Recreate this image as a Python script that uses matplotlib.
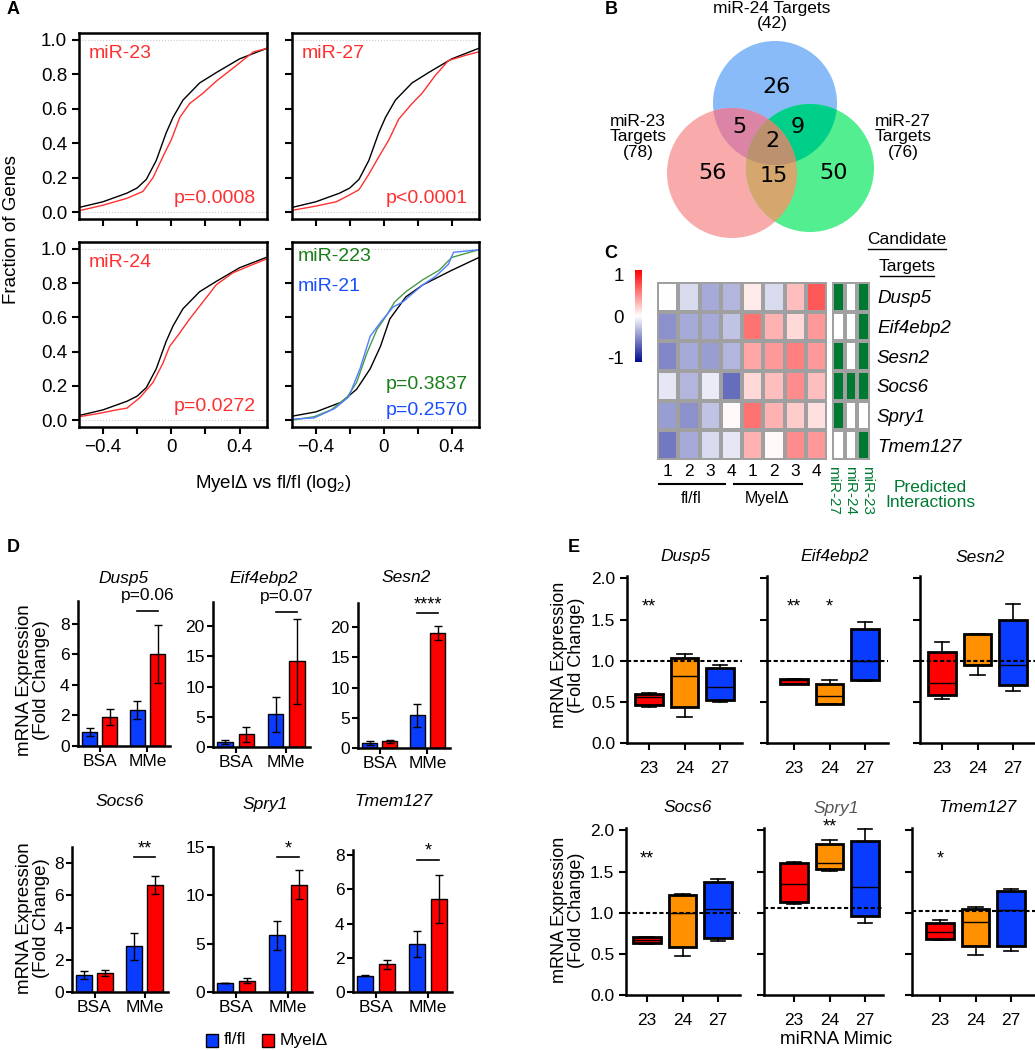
import numpy as np
import matplotlib
matplotlib.use("Agg")
import matplotlib.pyplot as plt
from matplotlib.colors import LinearSegmentedColormap, ListedColormap
from matplotlib.patches import Circle, Rectangle, Polygon
from matplotlib.lines import Line2D
import matplotlib.cm as cm
import matplotlib.colors as mcolors

plt.rcParams['font.family'] = ['Liberation Sans', 'DejaVu Sans']
plt.rcParams['mathtext.fontset'] = 'custom'
plt.rcParams['mathtext.rm'] = 'Liberation Sans'
plt.rcParams['mathtext.it'] = 'Liberation Sans:italic'

W, H = 1035, 1050

# ---------------- data ----------------
# A: cumulative fraction curves (log2 FC, fraction of genes)
bg_x = [-0.54, -0.4, -0.26, -0.2, -0.146, -0.088, -0.03, 0.01, 0.068, 0.166, 0.263, 0.4, 0.556]
bg_y = [0.027, 0.06, 0.11, 0.14, 0.19, 0.30, 0.46, 0.55, 0.65, 0.75, 0.81, 0.89, 0.95]
mir23_x = [-0.54, -0.4, -0.26, -0.166, -0.107, -0.05, 0.0, 0.05, 0.107, 0.185, 0.263, 0.36, 0.48, 0.556]
mir23_y = [0.008, 0.04, 0.08, 0.12, 0.2, 0.32, 0.42, 0.55, 0.63, 0.69, 0.76, 0.835, 0.93, 0.95]
mir27_x = [-0.54, -0.4, -0.28, -0.22, -0.146, -0.088, -0.03, 0.03, 0.088, 0.166, 0.225, 0.3, 0.38, 0.48, 0.556]
mir27_y = [0.01, 0.035, 0.06, 0.09, 0.13, 0.22, 0.32, 0.42, 0.54, 0.63, 0.69, 0.79, 0.88, 0.91, 0.93]
mir24_x = [-0.54, -0.42, -0.32, -0.26, -0.185, -0.107, -0.05, -0.01, 0.05, 0.107, 0.185, 0.263, 0.36, 0.48, 0.556]
mir24_y = [0.02, 0.04, 0.06, 0.07, 0.13, 0.22, 0.33, 0.43, 0.51, 0.59, 0.69, 0.79, 0.86, 0.91, 0.94]
bg2_x = [-0.54, -0.4, -0.25, -0.16, -0.08, -0.02, 0.035, 0.13, 0.23, 0.4, 0.556]
bg2_y = [0.023, 0.048, 0.105, 0.18, 0.30, 0.43, 0.59, 0.72, 0.79, 0.875, 0.948]
mir223_x = [-0.54, -0.41, -0.31, -0.215, -0.16, -0.1, -0.04, 0.015, 0.064, 0.13, 0.23, 0.325, 0.4, 0.556]
mir223_y = [0.0, 0.02, 0.06, 0.135, 0.22, 0.39, 0.53, 0.61, 0.69, 0.75, 0.82, 0.875, 0.95, 0.994]
mir21_x = [-0.54, -0.41, -0.29, -0.207, -0.14, -0.08, -0.02, 0.054, 0.112, 0.17, 0.23, 0.305, 0.38, 0.41, 0.556]
mir21_y = [0.006, 0.013, 0.067, 0.135, 0.3, 0.49, 0.57, 0.66, 0.69, 0.74, 0.79, 0.84, 0.91, 0.98, 0.994]

# B: venn counts
venn_only = {'miR-24': 26, 'miR-23': 56, 'miR-27': 50}
venn_pairs = {'23&24': 5, '24&27': 9, '23&27': 15}
venn_all = 2
venn_totals = {'miR-24': 42, 'miR-23': 78, 'miR-27': 76}

# C: heatmap (z-scores) and predicted interactions
genes = ['Dusp5', 'Eif4ebp2', 'Sesn2', 'Socs6', 'Spry1', 'Tmem127']
heat = [
    [0.0, -0.15, -0.35, -0.3, 0.08, -0.15, 0.25, 0.65],
    [-0.45, -0.35, -0.35, -0.25, 0.55, 0.3, 0.15, 0.4],
    [-0.5, -0.35, -0.4, -0.3, 0.35, 0.4, 0.5, 0.4],
    [-0.1, -0.3, -0.08, -0.6, 0.15, 0.25, 0.45, 0.25],
    [-0.4, -0.45, -0.25, 0.03, 0.55, 0.3, 0.2, 0.12],
    [-0.55, -0.35, -0.15, -0.1, 0.3, 0.03, 0.45, 0.4],
]
heat_cols = ['1', '2', '3', '4', '1', '2', '3', '4']
pred_cols = ['miR-27', 'miR-24', 'miR-23']
pred = [
    [1, 0, 1],
    [0, 0, 1],
    [1, 0, 1],
    [1, 1, 1],
    [1, 0, 0],
    [0, 0, 1],
]

# D: bar means / SEM  [BSA, MMe]
d_groups = ['BSA', 'MMe']
d_flfl = [[0.93, 2.38], [0.83, 5.4], [0.83, 5.4], [1.03, 2.83], [0.93, 5.87], [0.96, 2.79]]
d_flfl_err = [[0.26, 0.6], [0.3, 2.9], [0.3, 1.9], [0.25, 0.85], [0.0, 1.5], [0.05, 0.77]]
d_myel = [[1.9, 6.0], [2.1, 14.2], [1.1, 19.0], [1.18, 6.65], [1.17, 11.07], [1.63, 5.44]]
d_myel_err = [[0.5, 1.9], [1.2, 7.0], [0.2, 1.2], [0.16, 0.55], [0.27, 1.5], [0.26, 1.38]]
d_sig = ['p=0.06', 'p=0.07', '****', '**', '*', '*']
d_ymax = [9.5, 24, 24, 9, 15, 8.3]
d_ystep = [2, 5, 5, 2, 5, 2]

# E: box stats per gene, per mimic (whislo, q1, med, q3, whishi)
mimics = ['23', '24', '27']
e_boxes = [
    [[0.44, 0.46, 0.56, 0.60, 0.61], [0.32, 0.44, 0.82, 1.03, 1.08], [0.50, 0.52, 0.68, 0.91, 0.95]],
    [[0.72, 0.72, 0.76, 0.78, 0.78], [0.47, 0.48, 0.57, 0.72, 0.76], [0.75, 0.76, 1.0, 1.39, 1.47]],
    [[0.54, 0.58, 0.73, 1.11, 1.23], [0.83, 0.95, 0.95, 1.32, 1.32], [0.63, 0.70, 0.95, 1.50, 1.69]],
    [[0.62, 0.63, 0.67, 0.70, 0.71], [0.48, 0.58, 1.0, 1.21, 1.23], [0.66, 0.69, 1.04, 1.37, 1.41]],
    [[1.11, 1.13, 1.35, 1.60, 1.62], [1.51, 1.53, 1.61, 1.83, 1.89], [0.88, 0.96, 1.31, 1.87, 2.02]],
    [[0.67, 0.68, 0.76, 0.88, 0.91], [0.49, 0.59, 0.89, 1.04, 1.07], [0.53, 0.60, 1.03, 1.27, 1.29]],
]
e_ref = [1.0, 1.0, 1.0, 1.0, 1.06, 1.02]
e_sig = [[('**', 1)], [('**', 1), ('*', 2)], [], [('**', 1)], [('**', 2)], [('*', 1)]]
e_sig_y = [1.65, 1.65, 1.65, 1.65, 2.04, 1.65]

# colours
RED = '#ff0000'
BLUE = '#0a3cff'
ORANGE = '#ff9000'
GREEN_T = '#1a7f1a'
PRED_GREEN = '#007a33'


def rect(l, t, r, b):
    return [l / W, 1 - b / H, (r - l) / W, (b - t) / H]


def fx(x):
    return x / W


def fy(y):
    return 1 - y / H


fig = plt.figure(figsize=(W / 100, H / 100), dpi=100)

# ---------------- A ----------------
a_rects = [(79, 33, 267, 219), (292, 33, 479, 219), (79, 242, 267, 427), (292, 242, 479, 427)]
a_curves = [
    [(bg_x, bg_y, 'black'), (mir23_x, mir23_y, '#ff3030')],
    [(bg_x, bg_y, 'black'), (mir27_x, mir27_y, '#ff3030')],
    [(bg_x, bg_y, 'black'), (mir24_x, mir24_y, '#ff3030')],
    [(bg2_x, bg2_y, 'black'), (mir223_x, mir223_y, '#4a9a4a'), (mir21_x, mir21_y, '#4f7fff')],
]
a_labels = [
    [('miR-23', '#ff3030', 0.05, 0.89, 'left'), ('p=0.0008', '#ff3030', 0.94, 0.11, 'right')],
    [('miR-27', '#ff3030', 0.05, 0.89, 'left'), ('p<0.0001', '#ff3030', 0.94, 0.11, 'right')],
    [('miR-24', '#ff3030', 0.05, 0.89, 'left'), ('p=0.0272', '#ff3030', 0.94, 0.11, 'right')],
    [('miR-223', GREEN_T, 0.03, 0.92, 'left'), ('miR-21', '#1a4fff', 0.03, 0.76, 'left'),
     ('p=0.3837', GREEN_T, 0.94, 0.23, 'right'), ('p=0.2570', '#1a4fff', 0.94, 0.09, 'right')],
]
for i, r in enumerate(a_rects):
    ax = fig.add_axes(rect(*r))
    ax.axhline(0, color='#cccccc', ls=':', lw=0.8)
    ax.axhline(1, color='#cccccc', ls=':', lw=0.8)
    for xs, ys, c in a_curves[i]:
        ax.plot(xs, ys, color=c, lw=1.0)
    ax.set_xlim(-0.54, 0.56)
    ax.set_ylim(-0.04, 1.04)
    ax.set_xticks([-0.4, -0.2, 0, 0.2, 0.4])
    ax.set_xticklabels(['\u22120.4', '', '0', '', '0.4'])
    ax.set_yticks([0, 0.2, 0.4, 0.6, 0.8, 1.0])
    ax.set_yticklabels(['0.0', '0.2', '0.4', '0.6', '0.8', '1.0'])
    ax.tick_params(labelsize=13.5, width=1.5, length=5)
    if i < 2:
        ax.tick_params(labelbottom=False)
    if i % 2 == 1:
        ax.tick_params(labelleft=False)
    for s in ax.spines.values():
        s.set_linewidth(1.8)
    for txt, c, x, y, ha in a_labels[i]:
        ax.text(x, y, txt, color=c, fontsize=14, ha=ha, va='center', transform=ax.transAxes)

fig.text(fx(12), fy(230), 'Fraction of Genes', rotation=90, fontsize=13.5, ha='center', va='center')
fig.text(fx(273), fy(483), 'Myel\u0394 vs fl/fl (log$_2$)', fontsize=13.5, ha='center', va='center')

# ---------------- B ----------------
axv = fig.add_axes(rect(580, 0, 1035, 250))
axv.set_xlim(580, 1035)
axv.set_ylim(250, 0)
axv.axis('off')
c24, r24 = (775, 103), 62
c23, r23 = (732, 173), 65
c27, r27 = (810, 168), 64
axv.add_patch(Circle(c24, r24, facecolor='#88bbf8', lw=0))
axv.add_patch(Circle(c23, r23, facecolor='#f9abab', lw=0))
axv.add_patch(Circle(c27, r27, facecolor='#52ee90', lw=0))
# pairwise overlaps: one circle clipped by another
for (ca, ra), (cb_, rb), col in [((c24, r24), (c23, r23), '#dc84a6'),
                                 ((c24, r24), (c27, r27), '#00cf8a'),
                                 ((c23, r23), (c27, r27), '#d6a66f')]:
    p = Circle(ca, ra, facecolor=col, lw=0)
    axv.add_patch(p)
    p.set_clip_path(Circle(cb_, rb, transform=axv.transData))
# triple overlap
circs = [(c24, r24), (c23, r23), (c27, r27)]
pts = []
th = np.linspace(0, 2 * np.pi, 1440)
for k, (c, rr) in enumerate(circs):
    px_ = c[0] + rr * np.cos(th)
    py_ = c[1] + rr * np.sin(th)
    keep = np.ones_like(th, dtype=bool)
    for j, (c2, r2) in enumerate(circs):
        if j != k:
            keep &= (px_ - c2[0]) ** 2 + (py_ - c2[1]) ** 2 <= r2 ** 2 + 1e-6
    pts.append(np.column_stack([px_[keep], py_[keep]]))
pts = np.vstack(pts)
cen = pts.mean(axis=0)
order = np.argsort(np.arctan2(pts[:, 1] - cen[1], pts[:, 0] - cen[0]))
axv.add_patch(Polygon(pts[order], closed=True, facecolor='#bb916f', lw=0))

vfont = dict(fontsize=16, ha='center', va='center', family='DejaVu Sans')
axv.text(776, 87, str(venn_only['miR-24']), **vfont)
axv.text(712, 173, str(venn_only['miR-23']), **vfont)
axv.text(834, 173, str(venn_only['miR-27']), **vfont)
axv.text(739, 127, str(venn_pairs['23&24']), **vfont)
axv.text(798, 127, str(venn_pairs['24&27']), **vfont)
axv.text(774, 176, str(venn_pairs['23&27']), **vfont)
axv.text(772, 141, str(venn_all), **vfont)
axv.text(772, 16, 'miR-24 Targets\n(%d)' % venn_totals['miR-24'], fontsize=12.5, ha='center',
         va='center', linespacing=1.0)
axv.text(638, 137, 'miR-23\nTargets\n(%d)' % venn_totals['miR-23'], fontsize=12.5, ha='center',
         va='center', linespacing=1.0)
axv.text(903, 137, 'miR-27\nTargets\n(%d)' % venn_totals['miR-27'], fontsize=12.5, ha='center',
         va='center', linespacing=1.0)

# ---------------- C ----------------
hm_cmap = LinearSegmentedColormap.from_list('bwr2', ['#000c8f', '#ffffff', '#ff0000'])
axh = fig.add_axes(rect(657, 282, 827, 460))
axh.pcolormesh(heat, cmap=hm_cmap, vmin=-1, vmax=1, edgecolors='#a0a0a0', linewidth=1.5)
axh.set_xlim(0, 8)
axh.set_ylim(6, 0)
axh.set_xticks([i + 0.5 for i in range(8)])
axh.set_xticklabels(heat_cols, fontsize=12.5)
axh.set_yticks([])
axh.tick_params(length=0, pad=3)
for s in axh.spines.values():
    s.set_visible(False)
axh.plot([0.1, 3.2], [6.8, 6.8], color='black', lw=1.5, clip_on=False)
axh.plot([3.6, 6.8], [6.8, 6.8], color='black', lw=1.5, clip_on=False)
axh.text(1.6, 7.3, 'fl/fl', fontsize=11.5, ha='center', va='center')
axh.text(5.2, 7.3, 'Myel\u0394', fontsize=11.5, ha='center', va='center')

axp = fig.add_axes(rect(832, 282, 870, 460))
axp.pcolormesh(pred, cmap=ListedColormap(['white', PRED_GREEN]), vmin=0, vmax=1,
               edgecolors='#a0a0a0', linewidth=1.5)
axp.set_xlim(0, 3)
axp.set_ylim(6, 0)
axp.set_xticks([])
axp.set_yticks([i + 0.5 for i in range(6)])
axp.set_yticklabels(genes, fontsize=13.5, style='italic')
axp.yaxis.tick_right()
axp.tick_params(length=0, pad=5)
for s in axp.spines.values():
    s.set_visible(False)
# rotated interaction labels, slightly spread like the original
for lab, xpix in zip(pred_cols, [833, 850, 867]):
    fig.text(fx(xpix), fy(466), lab, rotation=-90, color=PRED_GREEN, fontsize=11,
             ha='center', va='top')

fig.text(fx(930), fy(495), 'Predicted\nInteractions', color=PRED_GREEN, fontsize=12.5,
         ha='center', va='center', linespacing=1.05)
fig.text(fx(907), fy(240), 'Candidate', fontsize=12.5, ha='center', va='center')
fig.text(fx(907), fy(267), 'Targets', fontsize=12.5, ha='center', va='center')
fig.add_artist(Line2D([fx(868), fx(946)], [fy(249), fy(249)], color='black', lw=1))
fig.add_artist(Line2D([fx(880), fx(934)], [fy(276), fy(276)], color='black', lw=1))

cax = fig.add_axes(rect(635, 270, 642, 362))
cb = fig.colorbar(cm.ScalarMappable(norm=mcolors.Normalize(-1, 1), cmap=hm_cmap), cax=cax)
cb.outline.set_visible(False)
cb.set_ticks([-0.9, 0, 0.9])
cb.set_ticklabels(['-1', '0', '1'])
cax.yaxis.set_ticks_position('left')
cax.tick_params(length=0, labelsize=13.5, pad=8)

# ---------------- D ----------------
d_rects = [(78, 601, 170, 746), (213, 602, 310, 747), (358, 603, 450, 748),
           (72, 847, 168, 992), (213, 847, 312, 992), (353, 850, 452, 992)]
d_title_pos = [(124, 578), (264, 578), (406, 578), (120, 802), (265, 805), (393, 802)]
off, bw = 0.21, 0.31
for i, r in enumerate(d_rects):
    ax = fig.add_axes(rect(*r))
    xs = [0, 1]
    ax.bar([x - off for x in xs], d_flfl[i], bw, yerr=d_flfl_err[i], color=BLUE,
           edgecolor='black', lw=1, capsize=3, error_kw=dict(lw=1, capthick=1))
    ax.bar([x + off for x in xs], d_myel[i], bw, yerr=d_myel_err[i], color=RED,
           edgecolor='black', lw=1, capsize=3, error_kw=dict(lw=1, capthick=1))
    ax.set_xlim(-0.45, 1.47)
    ax.set_ylim(0, d_ymax[i])
    ticks = list(range(0, int(d_ymax[i]) + 1, d_ystep[i]))
    ax.set_yticks(ticks)
    ax.set_xticks(xs)
    ax.set_xticklabels(d_groups)
    ax.tick_params(labelsize=12.5, width=1.5, length=4, pad=2)
    for s in ['top', 'right']:
        ax.spines[s].set_visible(False)
    for s in ['left', 'bottom']:
        ax.spines[s].set_linewidth(1.8)
    ytop = d_ymax[i] * 0.93
    ax.plot([1 - off, 1 + off], [ytop, ytop], color='black', lw=1.2, clip_on=False)
    if d_sig[i].startswith('p'):
        ax.annotate(d_sig[i], (1, ytop), xytext=(0, 6), textcoords='offset points',
                    ha='center', va='bottom', fontsize=12.5, annotation_clip=False)
    else:
        ax.annotate(d_sig[i], (1, ytop), xytext=(0, 0), textcoords='offset points',
                    ha='center', va='bottom', fontsize=13, annotation_clip=False)
    tx, ty = d_title_pos[i]
    fig.text(fx(tx), fy(ty), genes[i], fontsize=12.5, style='italic', ha='center', va='center')

for yc in [680, 918]:
    fig.text(fx(33), fy(yc), 'mRNA Expression\n(Fold Change)', rotation=90, fontsize=13.5,
             ha='center', va='center', linespacing=1.0)

# legend
fig.add_artist(Rectangle((fx(206), fy(1047)), 12 / W, 13 / H, facecolor=BLUE, edgecolor='black', lw=1))
fig.text(fx(224), fy(1040), 'fl/fl', fontsize=12.5, va='center')
fig.add_artist(Rectangle((fx(262), fy(1047)), 12 / W, 13 / H, facecolor=RED, edgecolor='black', lw=1))
fig.text(fx(280), fy(1040), 'Myel\u0394', fontsize=12.5, va='center')

# ---------------- E ----------------
e_rects = [(627, 576, 742, 743), (767, 576, 888, 743), (920, 576, 1035, 743),
           (626, 828, 740, 995), (764, 828, 883, 995), (912, 828, 1035, 995)]
e_tick1 = [649, 794, 942, 647, 794, 940]
e_title_pos = [(686, 557), (835, 557), (980, 557), (688, 808), (836, 808), (978, 808)]
e_cols = [RED, ORANGE, BLUE]
sp = 35.5
for i, r in enumerate(e_rects):
    ax = fig.add_axes(rect(*r))
    l, t, rr, b = r
    x0 = 1 - (e_tick1[i] - l) / sp
    x1 = x0 + (rr - l) / sp
    stats = []
    for lo, q1, med, q3, hi in e_boxes[i]:
        stats.append(dict(whislo=lo, q1=q1, med=med, q3=q3, whishi=hi, fliers=[]))
    bp = ax.bxp(stats, positions=[1, 2, 3], widths=0.78, patch_artist=True, showfliers=False,
                capwidths=0.4,
                boxprops=dict(lw=2, edgecolor='black'),
                whiskerprops=dict(lw=1.2, color='black'),
                capprops=dict(lw=1.2, color='black'),
                medianprops=dict(lw=1, color='black'))
    for patch, c in zip(bp['boxes'], e_cols):
        patch.set_facecolor(c)
    ax.axhline(e_ref[i], color='black', ls=(0, (2, 1.2)), lw=1.5, zorder=5)
    ax.set_xlim(x0, x1)
    ax.set_ylim(0, 2.03)
    ax.set_yticks([0, 0.5, 1.0, 1.5, 2.0])
    ax.set_yticklabels(['0.0', '0.5', '1.0', '1.5', '2.0'])
    ax.set_xticks([1, 2, 3])
    ax.set_xticklabels(mimics)
    ax.tick_params(labelsize=12.5, width=1.5, length=5)
    ax.tick_params(axis='x', pad=8)
    if i % 3 != 0:
        ax.tick_params(labelleft=False)
    for s in ['top', 'right']:
        ax.spines[s].set_visible(False)
    for s in ['left', 'bottom']:
        ax.spines[s].set_linewidth(1.8)
    for txt, pos in e_sig[i]:
        ax.text(pos, e_sig_y[i], txt, fontsize=13, ha='center', va='center', clip_on=False)
    tx, ty = e_title_pos[i]
    tcol = '#555555' if genes[i] == 'Spry1' else 'black'
    fig.text(fx(tx), fy(ty), genes[i], fontsize=12.5, style='italic', ha='center', va='center',
             color=tcol)

for yc in [655, 910]:
    fig.text(fx(568), fy(yc), 'mRNA Expression\n(Fold Change)', rotation=90, fontsize=13,
             ha='center', va='center', linespacing=1.0)
fig.text(fx(836), fy(1040), 'miRNA Mimic', fontsize=13.5, ha='center', va='center')

# panel letters
for letter, (x, y) in zip('ABCDE', [(7, 10), (605, 10), (604, 254), (7, 547), (568, 547)]):
    fig.text(fx(x), fy(y), letter, fontsize=13, fontweight='bold', ha='left', va='center')

fig.savefig('out.png', dpi=100)
